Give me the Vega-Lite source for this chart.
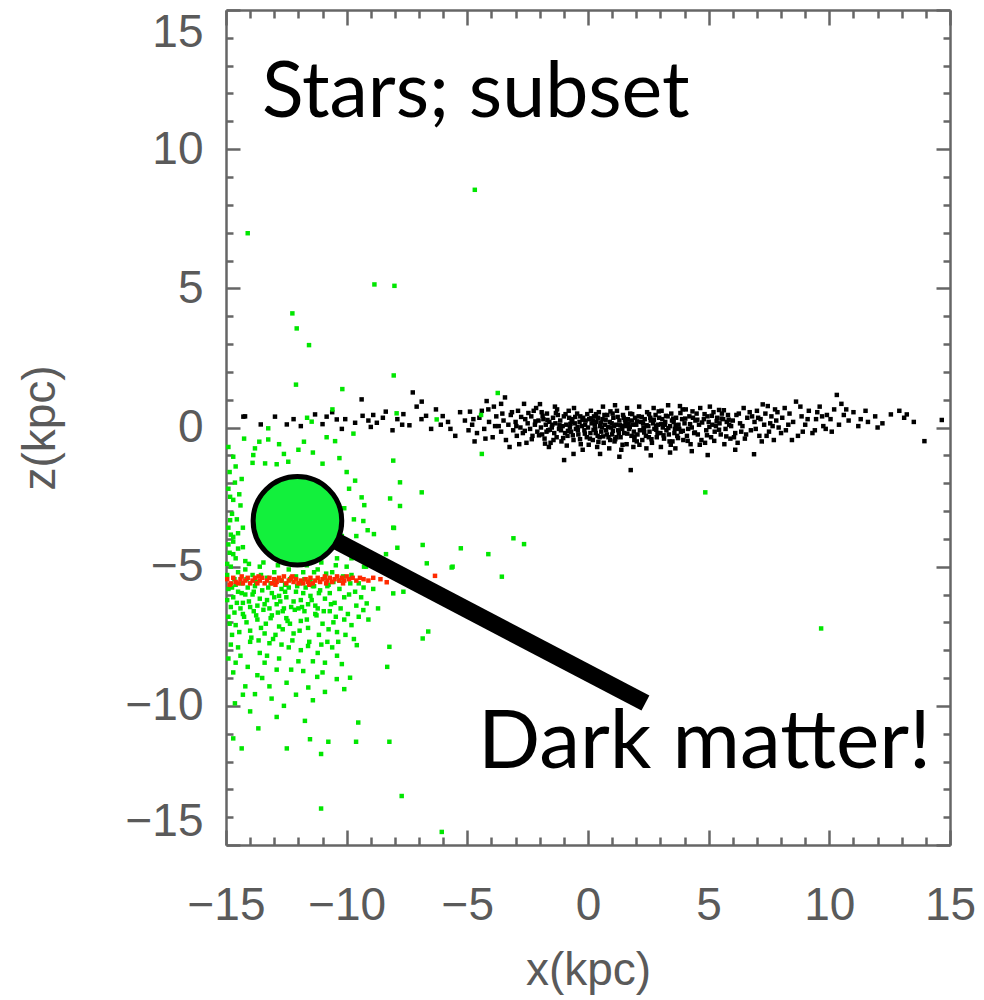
{
"$schema":"https://vega.github.io/schema/vega-lite/v6.json",
"width":724,"height":835,
"autosize":"none",
"padding":{"left":226,"top":10,"right":34,"bottom":155},
"background":"white",
"config":{"view":{"stroke":null},
"axis":{"domainColor":"#666","domainWidth":2.5,"tickColor":"#666","tickWidth":2.5,"grid":false,"labelFont":"Liberation Sans","labelFontSize":46,"labelColor":"#5a5a5a","titleFont":"Liberation Sans","titleFontSize":46,"titleFontWeight":"normal","titleColor":"#5a5a5a","labelOverlap":false,"labelFlush":false,"labelBound":false}},
"datasets":{
"stars":[
{"x":-14.28,"z":0.39},{"x":-14.21,"z":0.4},{"x":-13.56,"z":0.11},{"x":-12.97,"z":0.39},{"x":-12.48,"z":0.11},{"x":-11.31,"z":0.47},{"x":-10.83,"z":0.39},{"x":-10.41,"z":0.29},{"x":-10.06,"z":0.3},{"x":-9.34,"z":0.42},{"x":-9.65,"z":0.17},{"x":-8.75,"z":0.17},{"x":-8.38,"z":0.57},{"x":-7.65,"z":0.48},{"x":-6.71,"z":0.42},{"x":-6.02,"z":0.41},{"x":-7.26,"z":1.26},{"x":-9.38,"z":1.01},{"x":-6.89,"z":0.93},{"x":-7.1,"z":0.75},{"x":-11.9,"z":0.05},{"x":-11.0,"z":0.12},{"x":-10.2,"z":-0.05},{"x":-9.0,"z":0.02},{"x":-8.1,"z":-0.1},{"x":-7.4,"z":0.08},{"x":-6.5,"z":-0.05},{"x":-5.8,"z":0.2},{"x":-5.5,"z":-0.3},{"x":-12.2,"z":0.3},{"x":-10.6,"z":0.55},{"x":-8.9,"z":0.45},{"x":-7.9,"z":0.3},{"x":-6.3,"z":0.65},{"x":-5.3,"z":0.55},
{"x":-4.89,"z":0.57},{"x":-4.13,"z":0.65},{"x":-3.44,"z":1.08},{"x":-4.8,"z":0.1},{"x":-4.6,"z":-0.2},{"x":-4.5,"z":0.35},{"x":-4.3,"z":-0.05},{"x":-4.1,"z":0.2},{"x":-3.95,"z":-0.35},{"x":-3.8,"z":0.4},{"x":-3.7,"z":0.05},{"x":-3.6,"z":-0.15},{"x":-3.5,"z":0.25},{"x":-3.4,"z":-0.45},{"x":-3.3,"z":0.1},{"x":-3.2,"z":0.45},{"x":-3.1,"z":-0.1},{"x":-3.0,"z":0.2},{"x":-2.95,"z":-0.3},{"x":-2.9,"z":0.6},{"x":-2.8,"z":0.0},{"x":-2.7,"z":-0.2},{"x":-2.6,"z":0.3},{"x":-2.55,"z":-0.55},{"x":-2.5,"z":0.15},{"x":-2.4,"z":-0.05},{"x":-2.35,"z":0.4},{"x":-2.3,"z":-0.3},{"x":-2.2,"z":0.1},{"x":-2.15,"z":0.7},{"x":-2.1,"z":-0.15},{"x":-2.05,"z":0.25},{"x":-4.7,"z":-0.5},{"x":-3.9,"z":0.75},{"x":-3.25,"z":-0.7},{"x":-2.65,"z":0.85},{"x":-4.95,"z":-0.1},{"x":-4.4,"z":0.6},{"x":-3.55,"z":0.5},{"x":-2.85,"z":-0.6},
{"x":-1.99,"z":0.84},{"x":-1.37,"z":0.75},{"x":-0.99,"z":-1.17},{"x":-1.95,"z":0.0},{"x":-1.9,"z":-0.25},{"x":-1.85,"z":0.3},{"x":-1.8,"z":-0.4},{"x":-1.75,"z":0.1},{"x":-1.7,"z":0.5},{"x":-1.65,"z":-0.1},{"x":-1.6,"z":0.2},{"x":-1.55,"z":-0.55},{"x":-1.5,"z":0.0},{"x":-1.45,"z":0.35},{"x":-1.4,"z":-0.2},{"x":-1.35,"z":0.15},{"x":-1.3,"z":-0.35},{"x":-1.25,"z":0.45},{"x":-1.2,"z":-0.05},{"x":-1.15,"z":0.25},{"x":-1.1,"z":-0.5},{"x":-1.05,"z":0.05},{"x":-1.0,"z":0.4},{"x":-0.95,"z":-0.2},{"x":-0.9,"z":0.1},{"x":-0.85,"z":-0.3},{"x":-0.8,"z":0.6},{"x":-0.75,"z":0.0},{"x":-0.7,"z":-0.15},{"x":-0.65,"z":0.3},{"x":-0.6,"z":-0.45},{"x":-0.55,"z":0.15},{"x":-0.5,"z":-0.05},{"x":-0.45,"z":0.5},{"x":-0.4,"z":-0.25},{"x":-0.35,"z":0.2},{"x":-0.3,"z":-0.6},{"x":-0.25,"z":0.05},{"x":-0.2,"z":0.35},{"x":-0.15,"z":-0.1},{"x":-0.1,"z":0.25},{"x":-0.05,"z":-0.35},{"x":-1.92,"z":0.55},{"x":-1.62,"z":-0.7},{"x":-1.28,"z":0.65},{"x":-0.88,"z":-0.65},{"x":-0.58,"z":0.7},{"x":-0.22,"z":-0.8},{"x":-1.48,"z":0.1},{"x":-1.12,"z":-0.1},{"x":-0.78,"z":0.35},{"x":-0.42,"z":-0.1},{"x":-0.12,"z":0.1},{"x":-1.72,"z":-0.15},{"x":-0.68,"z":0.2},{"x":-0.32,"z":0.4},
{"x":0.0,"z":0.0},{"x":0.05,"z":0.3},{"x":0.1,"z":-0.2},{"x":0.15,"z":0.15},{"x":0.2,"z":-0.45},{"x":0.25,"z":0.4},{"x":0.3,"z":-0.05},{"x":0.35,"z":0.2},{"x":0.4,"z":-0.3},{"x":0.45,"z":0.55},{"x":0.5,"z":0.05},{"x":0.55,"z":-0.15},{"x":0.6,"z":0.3},{"x":0.65,"z":-0.55},{"x":0.7,"z":0.1},{"x":0.75,"z":-0.1},{"x":0.8,"z":0.45},{"x":0.85,"z":-0.35},{"x":0.9,"z":0.2},{"x":0.95,"z":0.0},{"x":1.0,"z":-0.25},{"x":1.05,"z":0.35},{"x":1.1,"z":-0.5},{"x":1.15,"z":0.1},{"x":1.2,"z":0.6},{"x":1.25,"z":-0.1},{"x":1.3,"z":0.25},{"x":1.35,"z":-0.35},{"x":1.4,"z":0.05},{"x":1.45,"z":0.45},{"x":1.5,"z":-0.2},{"x":1.55,"z":0.15},{"x":1.6,"z":-0.6},{"x":1.65,"z":0.3},{"x":1.7,"z":-0.05},{"x":1.75,"z":0.5},{"x":1.77,"z":-1.53},{"x":1.8,"z":-0.3},{"x":1.85,"z":0.1},{"x":1.9,"z":-0.15},{"x":1.95,"z":0.35},{"x":0.12,"z":0.6},{"x":0.38,"z":-0.7},{"x":0.62,"z":0.75},{"x":0.88,"z":-0.75},{"x":1.12,"z":0.8},{"x":1.38,"z":-0.8},{"x":1.62,"z":0.7},{"x":1.88,"z":-0.7},{"x":0.08,"z":-0.4},{"x":0.28,"z":0.1},{"x":0.48,"z":-0.35},{"x":0.68,"z":0.45},{"x":0.92,"z":-0.45},{"x":1.08,"z":0.05},{"x":1.28,"z":-0.2},{"x":1.48,"z":0.35},{"x":1.68,"z":0.15},{"x":1.92,"z":-0.45},{"x":0.22,"z":0.25},{"x":0.58,"z":0.0},{"x":0.98,"z":0.15},{"x":1.42,"z":-0.05},{"x":1.82,"z":0.25},{"x":0.32,"z":-0.2},{"x":0.78,"z":-0.25},{"x":1.18,"z":-0.35},{"x":1.58,"z":0.05},{"x":0.42,"z":0.35},{"x":1.02,"z":0.5},
{"x":2.0,"z":0.1},{"x":2.05,"z":-0.25},{"x":2.1,"z":0.4},{"x":2.15,"z":-0.1},{"x":2.2,"z":0.2},{"x":2.25,"z":-0.45},{"x":2.3,"z":0.0},{"x":2.35,"z":0.3},{"x":2.4,"z":-0.3},{"x":2.45,"z":0.55},{"x":2.5,"z":0.05},{"x":2.55,"z":-0.15},{"x":2.6,"z":0.25},{"x":2.65,"z":-0.55},{"x":2.7,"z":0.15},{"x":2.75,"z":-0.05},{"x":2.8,"z":0.45},{"x":2.85,"z":-0.35},{"x":2.9,"z":0.1},{"x":2.95,"z":0.35},{"x":3.0,"z":-0.2},{"x":3.05,"z":0.6},{"x":3.1,"z":0.0},{"x":3.15,"z":-0.4},{"x":3.2,"z":0.2},{"x":3.25,"z":-0.1},{"x":3.3,"z":0.4},{"x":3.35,"z":-0.25},{"x":3.4,"z":0.05},{"x":3.45,"z":0.5},{"x":3.5,"z":-0.5},{"x":3.55,"z":0.2},{"x":3.6,"z":-0.05},{"x":3.65,"z":0.35},{"x":3.7,"z":-0.3},{"x":3.75,"z":0.1},{"x":3.81,"z":0.77},{"x":3.85,"z":-0.15},{"x":3.9,"z":0.3},{"x":3.95,"z":-0.45},{"x":2.12,"z":0.75},{"x":2.42,"z":-0.75},{"x":2.72,"z":0.7},{"x":3.02,"z":-0.7},{"x":3.32,"z":0.8},{"x":3.62,"z":-0.75},{"x":3.92,"z":0.65},{"x":2.28,"z":0.15},{"x":2.58,"z":0.35},{"x":2.88,"z":-0.2},{"x":3.18,"z":0.1},{"x":3.48,"z":0.25},{"x":3.78,"z":-0.05},{"x":2.02,"z":-0.5},{"x":2.52,"z":-0.35},{"x":3.08,"z":0.3},{"x":3.58,"z":-0.2},{"x":2.82,"z":0.05},{"x":2.32,"z":-0.05},{"x":3.38,"z":-0.5},
{"x":4.0,"z":0.15},{"x":4.1,"z":-0.3},{"x":4.2,"z":0.4},{"x":4.3,"z":0.0},{"x":4.4,"z":-0.2},{"x":4.5,"z":0.5},{"x":4.6,"z":0.1},{"x":4.7,"z":-0.45},{"x":4.8,"z":0.3},{"x":4.9,"z":-0.1},{"x":4.96,"z":-0.99},{"x":5.0,"z":0.2},{"x":5.1,"z":-0.35},{"x":5.2,"z":0.55},{"x":5.3,"z":0.05},{"x":5.43,"z":0.63},{"x":5.5,"z":-0.25},{"x":5.6,"z":0.3},{"x":5.7,"z":-0.05},{"x":5.8,"z":0.45},{"x":5.9,"z":-0.4},{"x":4.05,"z":0.65},{"x":4.25,"z":-0.6},{"x":4.45,"z":0.25},{"x":4.65,"z":0.7},{"x":4.85,"z":-0.55},{"x":5.05,"z":0.75},{"x":5.25,"z":-0.15},{"x":5.45,"z":0.15},{"x":5.65,"z":-0.6},{"x":5.85,"z":0.1},{"x":4.15,"z":-0.05},{"x":4.55,"z":-0.25},{"x":4.95,"z":0.4},{"x":5.35,"z":0.35},{"x":5.75,"z":0.2},{"x":4.35,"z":0.35},{"x":5.15,"z":0.1},{"x":5.55,"z":0.5},
{"x":6.0,"z":0.25},{"x":6.1,"z":-0.2},{"x":6.25,"z":0.5},{"x":6.4,"z":0.05},{"x":6.5,"z":-0.4},{"x":6.6,"z":0.35},{"x":6.75,"z":-0.1},{"x":6.88,"z":-0.96},{"x":6.9,"z":0.2},{"x":7.0,"z":0.6},{"x":7.1,"z":-0.3},{"x":7.24,"z":0.83},{"x":7.3,"z":0.1},{"x":7.45,"z":0.77},{"x":7.5,"z":-0.15},{"x":7.6,"z":0.4},{"x":7.7,"z":-0.45},{"x":7.8,"z":0.25},{"x":7.9,"z":0.0},{"x":6.2,"z":-0.55},{"x":6.45,"z":0.7},{"x":6.8,"z":0.4},{"x":7.15,"z":0.3},{"x":7.4,"z":-0.3},{"x":7.85,"z":0.55},{"x":6.35,"z":-0.15},{"x":7.65,"z":0.05},
{"x":8.05,"z":0.35},{"x":8.2,"z":-0.1},{"x":8.35,"z":0.5},{"x":8.5,"z":0.2},{"x":8.62,"z":0.93},{"x":8.7,"z":-0.3},{"x":8.85,"z":0.4},{"x":9.0,"z":0.1},{"x":9.15,"z":0.6},{"x":9.3,"z":-0.2},{"x":9.45,"z":0.3},{"x":9.6,"z":0.75},{"x":9.75,"z":0.05},{"x":9.9,"z":0.45},{"x":8.15,"z":0.7},{"x":8.9,"z":-0.15},{"x":9.5,"z":0.55},{"x":9.85,"z":-0.05},
{"x":10.05,"z":0.3},{"x":10.2,"z":0.65},{"x":10.31,"z":1.17},{"x":10.4,"z":0.1},{"x":10.6,"z":0.45},{"x":10.8,"z":0.25},{"x":11.0,"z":0.55},{"x":11.3,"z":0.3},{"x":11.6,"z":0.2},{"x":11.9,"z":0.4},{"x":12.55,"z":0.47},{"x":13.21,"z":0.47},{"x":13.94,"z":-0.49},{"x":14.66,"z":0.27},{"x":12.2,"z":0.15},{"x":13.1,"z":0.35},{"x":10.5,"z":0.85},{"x":11.2,"z":0.05},
{"x":0.5,"z":-0.95},{"x":2.6,"z":-1.0},{"x":3.4,"z":-0.9},{"x":-0.6,"z":-0.95},{"x":1.3,"z":-1.05},{"x":4.3,"z":-0.85},{"x":6.1,"z":-0.8},
{"x":-2.97,"z":0.05},{"x":-2.77,"z":0.38},{"x":-2.62,"z":-0.12},{"x":-2.47,"z":0.52},{"x":-2.33,"z":-0.42},{"x":-2.18,"z":0.22},{"x":-2.03,"z":-0.28},{"x":-1.88,"z":0.42},{"x":-1.78,"z":-0.58},{"x":-1.68,"z":0.27},{"x":-1.58,"z":-0.08},{"x":-1.43,"z":-0.45},{"x":-1.33,"z":0.52},{"x":-1.18,"z":0.08},{"x":-1.03,"z":-0.38},{"x":-0.93,"z":0.48},{"x":-0.83,"z":-0.12},{"x":-0.73,"z":0.13},{"x":-0.63,"z":-0.28},{"x":-0.53,"z":0.38},{"x":-0.43,"z":0.02},{"x":-0.33,"z":-0.42},{"x":-0.23,"z":0.28},{"x":-0.13,"z":-0.22},{"x":-0.03,"z":0.48},{"x":0.03,"z":-0.62},{"x":0.13,"z":0.33},{"x":0.23,"z":-0.08},{"x":0.33,"z":0.48},{"x":0.43,"z":-0.52},{"x":0.53,"z":0.18},{"x":0.63,"z":-0.32},{"x":0.73,"z":0.28},{"x":0.83,"z":0.02},{"x":0.93,"z":0.58},{"x":1.03,"z":-0.12},{"x":1.13,"z":-0.42},{"x":1.23,"z":0.38},{"x":1.33,"z":0.08},{"x":1.43,"z":-0.62},{"x":1.53,"z":0.28},{"x":1.63,"z":-0.22},{"x":1.73,"z":0.02},{"x":1.83,"z":0.48},{"x":1.93,"z":-0.32},{"x":2.03,"z":0.22},{"x":2.13,"z":-0.62},{"x":2.23,"z":0.38},{"x":2.33,"z":-0.18},{"x":2.43,"z":0.08},{"x":2.53,"z":0.48},{"x":2.63,"z":-0.42},{"x":2.73,"z":0.28},{"x":2.83,"z":-0.08},{"x":2.93,"z":0.58},{"x":3.03,"z":0.12},{"x":3.13,"z":-0.28},{"x":3.23,"z":0.42},{"x":3.33,"z":-0.02},{"x":3.43,"z":-0.62},{"x":3.53,"z":0.32},{"x":3.63,"z":0.08},{"x":3.73,"z":-0.38},{"x":3.83,"z":0.52},{"x":3.93,"z":-0.12},{"x":4.03,"z":0.32},{"x":4.13,"z":-0.48},{"x":4.23,"z":0.12},{"x":4.33,"z":0.58},{"x":4.43,"z":-0.18},{"x":4.53,"z":0.28},{"x":4.63,"z":-0.62},{"x":4.73,"z":0.18},{"x":4.83,"z":0.48},{"x":4.93,"z":-0.28},{"x":5.03,"z":0.02},{"x":5.13,"z":0.42},{"x":5.23,"z":-0.48},{"x":5.33,"z":0.22},{"x":5.43,"z":-0.08},{"x":5.53,"z":0.32},{"x":5.63,"z":0.62},{"x":5.73,"z":-0.32},{"x":5.83,"z":0.28},{"x":5.93,"z":0.05},{"x":6.05,"z":-0.35},{"x":6.15,"z":0.45},{"x":6.3,"z":0.15},{"x":6.55,"z":-0.25},{"x":6.7,"z":0.55},{"x":6.95,"z":-0.05},{"x":7.05,"z":0.35},{"x":7.2,"z":-0.5},{"x":7.35,"z":0.5},{"x":7.55,"z":0.15},{"x":7.75,"z":0.65},{"x":8.0,"z":-0.2},{"x":8.3,"z":0.1},{"x":8.45,"z":-0.45},{"x":8.8,"z":0.75},{"x":9.1,"z":0.3},{"x":9.4,"z":-0.1},{"x":9.7,"z":0.4},{"x":10.1,"z":-0.15},{"x":10.7,"z":0.65},{"x":11.5,"z":0.6},{"x":12.0,"z":0.0},{"x":12.9,"z":0.6},{"x":13.5,"z":0.2},
{"x":-4.75,"z":0.3},{"x":-4.25,"z":-0.4},{"x":-3.85,"z":0.05},{"x":-3.15,"z":0.55},{"x":-2.25,"z":0.6},{"x":-5.1,"z":0.25},{"x":-5.7,"z":-0.05},{"x":-6.1,"z":0.1},{"x":-6.9,"z":0.3},{"x":-7.7,"z":0.1},{"x":-8.5,"z":0.35},{"x":-9.1,"z":0.25},{"x":-4.2,"z":0.95},{"x":-3.6,"z":0.85}
],
"dm":[
{"x":-14.9,"z":-3.6},{"x":-14.7,"z":-4.1},{"x":-14.5,"z":-3.8},{"x":-14.85,"z":-4.5},{"x":-14.6,"z":-4.7},{"x":-14.3,"z":-4.3},{"x":-14.75,"z":-3.1},{"x":-14.4,"z":-2.8},{"x":-14.9,"z":-2.2},{"x":-14.2,"z":-4.8},{"x":-14.95,"z":-4.9},{"x":-10.2,"z":-3.9},{"x":-9.9,"z":-4.4},{"x":-10.4,"z":-4.7},{"x":-9.7,"z":-3.3},{"x":-10.0,"z":-5.0},
{"x":-14.8,"z":-5.0},{"x":-14.5,"z":-5.2},{"x":-14.2,"z":-5.1},{"x":-13.9,"z":-5.3},{"x":-13.6,"z":-5.0},{"x":-13.3,"z":-5.4},{"x":-13.0,"z":-5.2},{"x":-12.7,"z":-5.5},{"x":-12.4,"z":-5.1},{"x":-12.1,"z":-5.35},{"x":-11.8,"z":-5.2},{"x":-11.5,"z":-5.5},{"x":-11.2,"z":-5.1},{"x":-10.9,"z":-5.4},{"x":-10.6,"z":-5.2},{"x":-10.3,"z":-5.5},{"x":-14.65,"z":-5.45},{"x":-14.35,"z":-5.6},{"x":-13.75,"z":-5.55},{"x":-13.15,"z":-5.6},{"x":-12.55,"z":-5.65},{"x":-11.95,"z":-5.6},{"x":-11.35,"z":-5.7},{"x":-10.75,"z":-5.65},{"x":-14.95,"z":-5.3},{"x":-14.05,"z":-4.9},{"x":-13.45,"z":-4.85},{"x":-12.85,"z":-4.95},{"x":-12.25,"z":-4.9},{"x":-11.65,"z":-4.95},{"x":-11.05,"z":-4.85},{"x":-10.45,"z":-4.95},{"x":-9.8,"z":-5.3},{"x":-9.5,"z":-5.6},{"x":-9.2,"z":-5.0},
{"x":-14.9,"z":-5.8},{"x":-14.7,"z":-6.1},{"x":-14.5,"z":-5.9},{"x":-14.3,"z":-6.3},{"x":-14.1,"z":-5.75},{"x":-13.9,"z":-6.0},{"x":-13.7,"z":-6.4},{"x":-13.5,"z":-5.85},{"x":-13.3,"z":-6.2},{"x":-13.1,"z":-5.95},{"x":-12.9,"z":-6.35},{"x":-12.7,"z":-5.8},{"x":-12.5,"z":-6.1},{"x":-12.3,"z":-6.45},{"x":-12.1,"z":-5.9},{"x":-11.9,"z":-6.2},{"x":-11.7,"z":-5.75},{"x":-11.5,"z":-6.05},{"x":-11.3,"z":-6.4},{"x":-11.1,"z":-5.85},{"x":-10.9,"z":-6.15},{"x":-10.7,"z":-5.95},{"x":-10.5,"z":-6.3},{"x":-10.3,"z":-5.8},{"x":-10.1,"z":-6.1},{"x":-14.8,"z":-6.45},{"x":-14.4,"z":-6.5},{"x":-14.0,"z":-6.45},{"x":-13.6,"z":-6.15},{"x":-13.2,"z":-6.5},{"x":-12.8,"z":-6.05},{"x":-12.4,"z":-5.75},{"x":-12.0,"z":-6.5},{"x":-11.6,"z":-6.35},{"x":-11.2,"z":-6.5},{"x":-10.8,"z":-5.7},{"x":-14.6,"z":-5.65},{"x":-14.2,"z":-6.0},{"x":-13.8,"z":-5.7},{"x":-13.4,"z":-6.35},{"x":-13.0,"z":-6.1},{"x":-12.6,"z":-6.5},{"x":-12.2,"z":-6.25},{"x":-11.8,"z":-5.95},{"x":-11.4,"z":-5.7},{"x":-9.9,"z":-6.0},{"x":-9.6,"z":-6.4},{"x":-9.3,"z":-5.75},{"x":-9.17,"z":-6.32},{"x":-9.31,"z":-6.56},
{"x":-14.9,"z":-6.8},{"x":-14.6,"z":-7.1},{"x":-14.3,"z":-6.7},{"x":-14.0,"z":-7.3},{"x":-13.7,"z":-6.9},{"x":-13.4,"z":-7.4},{"x":-13.1,"z":-6.75},{"x":-12.8,"z":-7.15},{"x":-12.5,"z":-6.85},{"x":-12.2,"z":-7.4},{"x":-11.9,"z":-6.95},{"x":-11.6,"z":-7.2},{"x":-11.3,"z":-6.7},{"x":-11.0,"z":-7.05},{"x":-10.7,"z":-6.6},{"x":-10.4,"z":-7.35},{"x":-10.1,"z":-6.9},{"x":-9.8,"z":-7.1},{"x":-14.75,"z":-7.45},{"x":-14.15,"z":-7.0},{"x":-13.55,"z":-7.2},{"x":-12.95,"z":-7.45},{"x":-12.35,"z":-7.05},{"x":-11.75,"z":-6.6},{"x":-11.15,"z":-7.45},{"x":-10.55,"z":-7.0},{"x":-9.5,"z":-6.8},{"x":-13.85,"z":-6.6},{"x":-12.65,"z":-6.6},
{"x":-14.8,"z":-7.8},{"x":-14.4,"z":-8.2},{"x":-14.0,"z":-7.7},{"x":-13.6,"z":-8.1},{"x":-13.2,"z":-7.75},{"x":-12.8,"z":-8.3},{"x":-12.4,"z":-7.9},{"x":-12.0,"z":-8.4},{"x":-11.6,"z":-7.85},{"x":-11.2,"z":-8.1},{"x":-10.8,"z":-7.7},{"x":-10.4,"z":-8.2},{"x":-9.58,"z":-7.82},{"x":-8.23,"z":-7.88},{"x":-14.6,"z":-8.45},{"x":-13.4,"z":-8.45},{"x":-11.9,"z":-8.0},{"x":-10.9,"z":-8.45},{"x":-6.85,"z":-7.58},{"x":-6.62,"z":-7.33},
{"x":-14.7,"z":-8.8},{"x":-14.2,"z":-9.3},{"x":-13.8,"z":-9.58},{"x":-13.11,"z":-9.74},{"x":-12.49,"z":-9.17},{"x":-12.9,"z":-8.7},{"x":-11.22,"z":-8.96},{"x":-11.59,"z":-9.34},{"x":-10.41,"z":-9.04},{"x":-9.86,"z":-8.99},{"x":-8.32,"z":-8.6},{"x":-14.63,"z":-9.91},{"x":-13.5,"z":-9.0},{"x":-12.1,"z":-9.6},{"x":-11.8,"z":-8.75},{"x":-10.9,"z":-9.5},
{"x":-11.73,"z":-10.54},{"x":-13.66,"z":-10.81},{"x":-9.52,"z":-10.6},{"x":-14.7,"z":-11.17},{"x":-11.52,"z":-11.2},{"x":-10.76,"z":-11.29},{"x":-9.61,"z":-11.29},{"x":-8.23,"z":-11.29},{"x":-14.35,"z":-11.53},{"x":-12.48,"z":-11.53},{"x":-11.06,"z":-11.73},{"x":-11.06,"z":-13.69},{"x":-7.72,"z":-13.24},{"x":-6.06,"z":-14.53},
{"x":-14.1,"z":6.98},{"x":-4.69,"z":8.54},{"x":-8.85,"z":5.14},{"x":-8.02,"z":5.09},{"x":-12.25,"z":4.1},{"x":-12.07,"z":3.56},{"x":-11.56,"z":2.96},{"x":-12.1,"z":1.54},{"x":-10.18,"z":1.38},{"x":-8.05,"z":1.87},{"x":-3.74,"z":1.24},{"x":-10.59,"z":0.65},{"x":-11.64,"z":0.35},{"x":-11.45,"z":0.21},{"x":-7.93,"z":0.51},{"x":-6.27,"z":0.29},{"x":-4.43,"z":0.45},{"x":-13.25,"z":-0.03},{"x":4.86,"z":-2.33},{"x":9.66,"z":-7.22},
{"x":-14.7,"z":-1.05},{"x":-13.87,"z":-0.99},{"x":-12.6,"z":-0.95},{"x":-13.9,"z":-1.27},{"x":-13.38,"z":-1.29},{"x":-12.9,"z":-1.32},{"x":-12.42,"z":-1.23},{"x":-13.62,"z":-0.51},{"x":-13.25,"z":-0.43},{"x":-11.77,"z":-0.51},{"x":-10.83,"z":-0.35},{"x":-10.48,"z":-0.49},{"x":-9.72,"z":-0.22},{"x":-8.07,"z":-1.19},{"x":-4.4,"z":-0.95},{"x":-9.65,"z":-1.91},{"x":-7.79,"z":-1.97},{"x":-6.89,"z":-2.33},{"x":-8.2,"z":-2.55},{"x":-9.38,"z":-2.51},{"x":-9.27,"z":-2.79},{"x":-7.79,"z":-2.82},{"x":-3.09,"z":-3.98},{"x":-2.65,"z":-4.19},{"x":-5.27,"z":-4.34},{"x":-4.13,"z":-4.55},{"x":-3.57,"z":-5.36},{"x":-6.85,"z":-4.22},{"x":-7.9,"z":-4.32},{"x":-6.68,"z":-4.88},{"x":-8.37,"z":-4.55},{"x":-8.87,"z":-3.83},{"x":-9.13,"z":-3.69},{"x":-8.07,"z":-3.6},{"x":-14.83,"z":-2.49},{"x":-14.63,"z":-1.98},{"x":-14.83,"z":-3.33},{"x":-14.7,"z":-3.93},{"x":-5.61,"z":-5.0},{"x":-9.28,"z":-5.0},{"x":-9.65,"z":-5.9},{"x":-8.07,"z":-5.96},{"x":-7.65,"z":-5.9},{"x":-9.31,"z":-3.36},{"x":-8.04,"z":-3.61},{"x":-5.65,"z":-5.03},
{"x":-14.95,"z":-6.2},{"x":-14.85,"z":-7.05},{"x":-14.75,"z":-5.75},{"x":-14.65,"z":-6.65},{"x":-14.55,"z":-6.3},{"x":-14.45,"z":-7.35},{"x":-14.35,"z":-5.95},{"x":-14.25,"z":-6.8},{"x":-14.15,"z":-5.45},{"x":-14.05,"z":-6.25},{"x":-13.95,"z":-7.55},{"x":-13.85,"z":-5.9},{"x":-13.75,"z":-6.75},{"x":-13.65,"z":-7.65},{"x":-13.55,"z":-5.3},{"x":-13.45,"z":-6.55},{"x":-13.35,"z":-7.05},{"x":-13.25,"z":-5.75},{"x":-13.15,"z":-6.85},{"x":-13.05,"z":-7.6},{"x":-12.95,"z":-5.5},{"x":-12.85,"z":-6.65},{"x":-12.75,"z":-6.25},{"x":-12.65,"z":-7.25},{"x":-12.55,"z":-5.9},{"x":-12.45,"z":-6.95},{"x":-12.35,"z":-5.45},{"x":-12.25,"z":-7.65},{"x":-12.15,"z":-6.55},{"x":-12.05,"z":-5.7},{"x":-11.95,"z":-7.3},{"x":-11.85,"z":-6.45},{"x":-11.75,"z":-5.45},{"x":-11.65,"z":-6.9},{"x":-11.55,"z":-7.7},{"x":-11.45,"z":-6.2},{"x":-11.35,"z":-5.2},{"x":-11.25,"z":-6.75},{"x":-11.15,"z":-5.95},{"x":-11.05,"z":-7.8},{"x":-10.95,"z":-6.6},{"x":-10.85,"z":-5.25},{"x":-10.75,"z":-7.25},{"x":-10.65,"z":-6.35},{"x":-10.55,"z":-5.55},{"x":-10.45,"z":-6.8},{"x":-10.35,"z":-7.7},{"x":-10.25,"z":-6.5},{"x":-10.15,"z":-5.35},{"x":-10.05,"z":-7.45},{"x":-9.95,"z":-6.7},{"x":-9.85,"z":-5.6},{"x":-9.7,"z":-7.6},{"x":-9.4,"z":-6.1},{"x":-9.1,"z":-6.9},{"x":-8.9,"z":-5.8},{"x":-8.7,"z":-6.5},{"x":-14.9,"z":-4.2},{"x":-14.7,"z":-4.55},{"x":-14.5,"z":-4.35},{"x":-14.3,"z":-3.6},{"x":-14.55,"z":-3.3},{"x":-14.8,"z":-3.85},{"x":-14.45,"z":-2.4},{"x":-14.7,"z":-2.6},{"x":-14.85,"z":-1.6},{"x":-14.35,"z":-1.85},{"x":-14.6,"z":-1.4},{"x":-14.9,"z":-0.7},{"x":-14.25,"z":-0.4},{"x":-13.8,"z":-0.75},{"x":-12.8,"z":-0.6},{"x":-12.0,"z":-0.8},{"x":-11.4,"z":-0.9},{"x":-11.0,"z":-1.3},{"x":-10.3,"z":-1.1},{"x":-10.0,"z":-1.6},{"x":-9.9,"z":-2.2},{"x":-10.1,"z":-2.9},{"x":-9.6,"z":-3.9},{"x":-9.8,"z":-4.7},{"x":-9.5,"z":-4.3},{"x":-10.3,"z":-4.35},{"x":-14.9,"z":-8.3},{"x":-14.5,"z":-7.9},{"x":-14.1,"z":-8.6},{"x":-13.7,"z":-8.9},{"x":-13.3,"z":-8.2},{"x":-12.7,"z":-7.8},{"x":-12.3,"z":-8.7},{"x":-11.4,"z":-8.4},{"x":-11.0,"z":-8.8},{"x":-10.6,"z":-7.9},{"x":-10.2,"z":-8.5},{"x":-14.3,"z":-9.6},{"x":-13.2,"z":-9.3},{"x":-12.6,"z":-10.0},{"x":-11.4,"z":-9.8},{"x":-10.1,"z":-9.4},{"x":-14.0,"z":-10.2},{"x":-12.9,"z":-10.4}
],
"red":[
{"x":-14.95,"z":-5.45},{"x":-14.8,"z":-5.6},{"x":-14.7,"z":-5.4},{"x":-14.6,"z":-5.55},{"x":-14.5,"z":-5.6},{"x":-14.4,"z":-5.45},{"x":-14.3,"z":-5.6},{"x":-14.2,"z":-5.5},{"x":-14.1,"z":-5.4},{"x":-14.0,"z":-5.6},{"x":-13.9,"z":-5.5},{"x":-13.8,"z":-5.4},{"x":-13.7,"z":-5.6},{"x":-13.6,"z":-5.5},{"x":-13.5,"z":-5.4},{"x":-13.4,"z":-5.6},{"x":-13.3,"z":-5.5},{"x":-13.2,"z":-5.4},{"x":-13.1,"z":-5.6},{"x":-13.0,"z":-5.45},{"x":-12.9,"z":-5.55},{"x":-12.8,"z":-5.4},{"x":-12.7,"z":-5.5},{"x":-12.6,"z":-5.35},{"x":-12.5,"z":-5.6},{"x":-12.4,"z":-5.5},{"x":-12.3,"z":-5.4},{"x":-12.2,"z":-5.55},{"x":-12.1,"z":-5.45},{"x":-12.0,"z":-5.6},{"x":-11.9,"z":-5.5},{"x":-11.8,"z":-5.6},{"x":-11.7,"z":-5.45},{"x":-11.6,"z":-5.55},{"x":-11.5,"z":-5.4},{"x":-11.4,"z":-5.6},{"x":-11.3,"z":-5.5},{"x":-11.2,"z":-5.4},{"x":-11.1,"z":-5.55},{"x":-11.0,"z":-5.45},{"x":-10.9,"z":-5.35},{"x":-10.8,"z":-5.5},{"x":-10.7,"z":-5.4},{"x":-10.6,"z":-5.55},{"x":-10.5,"z":-5.45},{"x":-10.4,"z":-5.35},{"x":-10.3,"z":-5.5},{"x":-10.2,"z":-5.4},{"x":-10.1,"z":-5.5},{"x":-10.0,"z":-5.35},{"x":-9.9,"z":-5.45},{"x":-9.75,"z":-5.4},{"x":-9.6,"z":-5.5},{"x":-9.45,"z":-5.4},{"x":-9.3,"z":-5.45},{"x":-9.1,"z":-5.5},{"x":-8.9,"z":-5.4},{"x":-8.6,"z":-5.45},{"x":-8.34,"z":-5.56},{"x":-7.9,"z":-5.4},{"x":-7.5,"z":-5.45},{"x":-6.34,"z":-5.33},{"x":-14.85,"z":-5.65},{"x":-14.35,"z":-5.35},{"x":-13.65,"z":-5.35},{"x":-12.95,"z":-5.65},{"x":-12.25,"z":-5.35},{"x":-11.55,"z":-5.65},{"x":-10.85,"z":-5.6},{"x":-10.15,"z":-5.6}
],
"pointer":[{"x":-12.04,"z":-3.35,"x2":2.38,"z2":-9.9}],
"blob":[{"x":-12.04,"z":-3.35}],
"label1":[{"x":-13.51,"z":11.15,"t":"Stars; subset"}],
"label2":[{"x":-4.56,"z":-12.24,"t":"Dark matter!"}]
},
"layer":[
{"data":{"name":"stars"},"mark":{"type":"square","size":20,"color":"#000","opacity":1},
"encoding":{
"x":{"field":"x","type":"quantitative","scale":{"domain":[-15,15],"nice":false,"zero":false},"axis":{"orient":"bottom","values":[-15,-10,-5,0,5,10,15],"tickSize":-15,"labelPadding":53,"title":"x(kpc)","titlePadding":20}},
"y":{"field":"z","type":"quantitative","scale":{"domain":[-15,15],"nice":false,"zero":false},"axis":{"orient":"left","values":[-15,-10,-5,0,5,10,15],"tickSize":-14,"labelPadding":37,"labelFlush":true,"title":"z(kpc)","titlePadding":60}}}},
{"data":{"name":"dm"},"mark":{"type":"square","size":20,"color":"#00e600","opacity":1},
"encoding":{
"x":{"field":"x","type":"quantitative","scale":{"domain":[-15,15],"nice":false,"zero":false},"axis":{"orient":"bottom","values":[-14,-13,-12,-11,-9,-8,-7,-6,-4,-3,-2,-1,1,2,3,4,6,7,8,9,11,12,13,14],"tickSize":-8,"labels":false,"domain":false,"title":null}},
"y":{"field":"z","type":"quantitative","scale":{"domain":[-15,15],"nice":false,"zero":false},"axis":{"orient":"left","values":[-14,-13,-12,-11,-9,-8,-7,-6,-4,-3,-2,-1,1,2,3,4,6,7,8,9,11,12,13,14],"tickSize":-7,"labels":false,"domain":false,"title":null}}}},
{"data":{"name":"red"},"mark":{"type":"square","size":20,"color":"#ff2a00","opacity":1},
"encoding":{
"x":{"field":"x","type":"quantitative","scale":{"domain":[-15,15],"nice":false,"zero":false},"axis":{"orient":"top","values":[-15,-10,-5,0,5,10,15],"tickSize":-15,"labels":false,"title":null}},
"y":{"field":"z","type":"quantitative","scale":{"domain":[-15,15],"nice":false,"zero":false},"axis":{"orient":"right","values":[-15,-10,-5,0,5,10,15],"tickSize":-14,"labels":false,"title":null}}}},
{"data":{"name":"pointer"},"mark":{"type":"rule","color":"#000","strokeWidth":17,"strokeCap":"butt"},
"encoding":{
"x":{"field":"x","type":"quantitative","scale":{"domain":[-15,15],"nice":false,"zero":false},"axis":{"orient":"top","values":[-14,-13,-12,-11,-9,-8,-7,-6,-4,-3,-2,-1,1,2,3,4,6,7,8,9,11,12,13,14],"tickSize":-8,"labels":false,"domain":false,"title":null}},
"y":{"field":"z","type":"quantitative","scale":{"domain":[-15,15],"nice":false,"zero":false},"axis":{"orient":"right","values":[-14,-13,-12,-11,-9,-8,-7,-6,-4,-3,-2,-1,1,2,3,4,6,7,8,9,11,12,13,14],"tickSize":-7,"labels":false,"domain":false,"title":null}},
"x2":{"field":"x2"},"y2":{"field":"z2"}}},
{"data":{"name":"blob"},"mark":{"type":"point","shape":"circle","filled":true,"fill":"#12f03c","stroke":"#000","strokeWidth":5,"size":7854,"opacity":1,"fillOpacity":1,"strokeOpacity":1},
"encoding":{
"x":{"field":"x","type":"quantitative","scale":{"domain":[-15,15],"nice":false,"zero":false},"axis":null},
"y":{"field":"z","type":"quantitative","scale":{"domain":[-15,15],"nice":false,"zero":false},"axis":null}}},
{"data":{"name":"label1"},"mark":{"type":"text","align":"left","baseline":"alphabetic","font":"Lato","fontSize":77,"color":"#000"},
"encoding":{
"x":{"field":"x","type":"quantitative","scale":{"domain":[-15,15],"nice":false,"zero":false},"axis":null},
"y":{"field":"z","type":"quantitative","scale":{"domain":[-15,15],"nice":false,"zero":false},"axis":null},
"text":{"field":"t"}}},
{"data":{"name":"label2"},"mark":{"type":"text","align":"left","baseline":"alphabetic","font":"Lato","fontSize":82,"color":"#000"},
"encoding":{
"x":{"field":"x","type":"quantitative","scale":{"domain":[-15,15],"nice":false,"zero":false},"axis":null},
"y":{"field":"z","type":"quantitative","scale":{"domain":[-15,15],"nice":false,"zero":false},"axis":null},
"text":{"field":"t"}}}
],
"resolve":{"axis":{"x":"independent","y":"independent"}}
}
